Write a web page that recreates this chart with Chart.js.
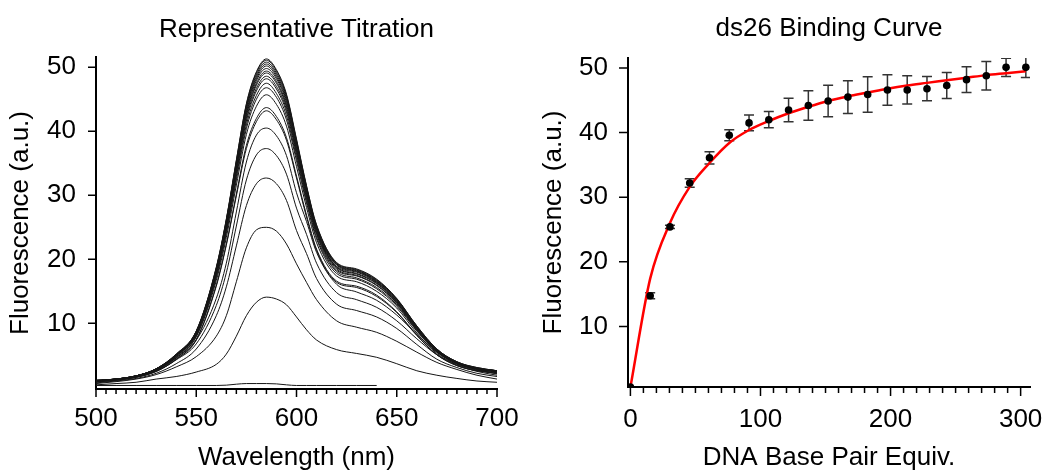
<!DOCTYPE html>
<html>
<head>
<meta charset="utf-8">
<script src="https://cdn.jsdelivr.net/npm/chart.js@4.4.0/dist/chart.umd.min.js"></script>
<style>
  body { margin: 0; background: #fff; }
  #wrap { position: relative; width: 1043px; height: 471px; }
  canvas { position: absolute; top: 0; }
</style>
</head>
<body>
<div id="wrap">
  <canvas id="titration" width="520" height="471" style="left:0"></canvas>
  <canvas id="binding" width="523" height="471" style="left:520px"></canvas>
</div>
<script>

// ============================
// DATA : LEFT PANEL (spectra)
// ============================

const wavelengths = [500,510,520,530,540,550,560,565,570,575,580,585,590,595,600,605,610,620,630,640,650,660,670,680,690,700];

// one spectrum per titration step (a.u.)
const spec00 = [0.3,0.3,0.3,0.3,0.3,0.3,0.3,0.35,0.5,0.6,0.6,0.6,0.55,0.4,0.3,0.3,0.3,0.3,0.3,0.3,null,null,null,null,null,null];
const spec01 = [0.4,0.6,0.8,1.3,1.7,2.4,3.6,5.2,8.0,11.2,13.3,14.1,13.8,12.9,11.0,9.0,7.4,5.9,5.3,4.7,3.7,2.6,1.9,1.4,1.0,0.8];
const spec02 = [0.6,0.9,1.3,2.0,3.2,4.8,8.0,11.2,16.5,21.8,24.6,25.0,24.4,22.4,19.3,16.4,13.7,10.4,9.4,8.6,7.2,5.5,3.9,2.8,1.9,1.3];
const spec03 = [0.7,1.0,1.4,2.2,3.7,6.0,11.2,15.7,22.1,28.4,31.8,32.7,31.8,29.2,24.5,20.9,17.0,13.0,12.0,11.0,9.2,6.7,4.4,3.1,2.2,1.7];
const spec04 = [0.8,1.2,1.6,2.5,4.3,6.8,12.8,17.9,25.2,32.4,36.3,37.3,36.2,33.3,28.0,23.9,19.4,14.8,13.7,12.5,10.4,7.6,5.1,3.5,2.5,1.9];
const spec05 = [0.9,1.3,1.8,2.8,4.6,7.4,13.9,19.4,27.4,35.2,39.4,40.5,39.3,36.2,30.4,25.9,21.1,16.1,14.9,13.6,11.3,8.3,5.5,3.8,2.8,2.1];
const spec06 = [0.9,1.1,1.6,2.5,4.4,7.4,15.8,22.2,29.9,37.3,41.5,43.2,41.8,38.6,32.7,26.6,21.4,16.4,15.6,14.2,11.7,8.1,5.1,3.4,2.6,2.2];
const spec07 = [0.9,1.1,1.6,2.5,4.4,7.5,16.0,22.4,30.2,37.8,42.0,43.7,42.3,39.0,33.0,26.9,21.6,16.6,15.8,14.4,11.8,8.2,5.1,3.4,2.6,2.2];
const spec08 = [1.0,1.2,1.6,2.6,4.6,7.9,16.7,23.4,31.6,39.5,43.9,45.7,44.2,40.8,34.5,28.1,22.6,17.4,16.5,15.0,12.4,8.5,5.3,3.6,2.7,2.3];
const spec09 = [1.0,1.2,1.7,2.7,4.7,8.0,17.1,24.0,32.4,40.4,45.0,46.8,45.3,41.8,35.4,28.8,23.2,17.8,16.9,15.4,12.7,8.8,5.5,3.7,2.8,2.4];
const spec10 = [1.0,1.2,1.7,2.7,4.8,8.2,17.4,24.4,32.9,41.0,45.6,47.5,45.9,42.4,35.9,29.2,23.5,18.1,17.1,15.6,12.9,8.9,5.6,3.7,2.9,2.4];
const spec11 = [1.0,1.3,1.7,2.7,4.9,8.3,17.6,24.7,33.4,41.6,46.3,48.2,46.6,43.0,36.4,29.6,23.9,18.3,17.4,15.9,13.1,9.0,5.6,3.8,2.9,2.5];
const spec12 = [1.0,1.3,1.7,2.8,4.9,8.4,17.8,24.9,33.6,42.0,46.7,48.6,47.0,43.4,36.7,29.9,24.1,18.5,17.5,16.0,13.2,9.1,5.7,3.8,2.9,2.5];
const spec13 = [1.0,1.3,1.8,2.8,5.0,8.4,18.0,25.2,34.0,42.4,47.2,49.1,47.5,43.8,37.1,30.2,24.3,18.7,17.7,16.2,13.3,9.2,5.7,3.8,2.9,2.5];
const spec14 = [1.0,1.3,1.8,2.8,5.0,8.5,18.1,25.3,34.2,42.7,47.5,49.4,47.8,44.1,37.3,30.4,24.5,18.8,17.8,16.3,13.4,9.2,5.8,3.9,3.0,2.5];
const spec15 = [1.0,1.3,1.8,2.8,5.0,8.6,18.2,25.5,34.5,43.0,47.9,49.8,48.2,44.5,37.6,30.6,24.7,18.9,18.0,16.4,13.5,9.3,5.8,3.9,3.0,2.5];
const spec16 = [1.1,1.3,1.8,2.9,5.1,8.6,18.4,25.8,34.7,43.4,48.2,50.2,48.5,44.8,38.0,30.9,24.8,19.1,18.1,16.5,13.6,9.4,5.9,3.9,3.0,2.6];
const spec17 = [1.1,1.3,1.8,2.9,5.1,8.7,18.5,25.9,34.9,43.6,48.5,50.5,48.8,45.1,38.2,31.1,25.0,19.2,18.2,16.6,13.7,9.4,5.9,3.9,3.0,2.6];
const spec18 = [1.1,1.3,1.8,2.9,5.1,8.7,18.6,26.1,35.2,43.9,48.8,50.8,49.1,45.4,38.4,31.2,25.1,19.3,18.3,16.7,13.8,9.5,5.9,4.0,3.0,2.6];
const spec19 = [1.1,1.3,1.8,2.9,5.2,8.8,18.7,26.2,35.4,44.2,49.1,51.1,49.4,45.6,38.6,31.4,25.3,19.4,18.4,16.8,13.8,9.6,6.0,4.0,3.1,2.6];
const spec20 = [1.1,1.3,1.8,2.9,5.2,8.8,18.8,26.3,35.5,44.3,49.3,51.3,49.6,45.8,38.8,31.5,25.4,19.5,18.5,16.9,13.9,9.6,6.0,4.0,3.1,2.6];

const spectra = [spec00,spec01,spec02,spec03,spec04,spec05,spec06,spec07,spec08,spec09,spec10,
                 spec11,spec12,spec13,spec14,spec15,spec16,spec17,spec18,spec19,spec20];

const wlTicks = [500,550,600,650,700];
const fluorTicks = [10,20,30,40,50];

// ============================
// DATA : RIGHT PANEL (binding)
// ============================

const bpEquiv  = [0,15.2,30.4,45.6,60.8,76,91.2,106.4,121.6,136.8,152,167.2,182.4,197.6,212.8,228,243.2,258.4,273.6,288.8,304];
const bindMean = [0.6,14.75,25.4,32.2,36.1,39.6,41.5,42.0,43.5,44.2,44.9,45.5,45.9,46.6,46.6,46.8,47.3,48.2,48.8,50.1,50.1];
const bindErr  = [0,0.46,0.25,0.65,0.95,0.85,1.21,1.26,1.83,2.27,2.45,2.53,2.76,2.35,2.19,1.88,2.01,1.99,2.19,1.42,1.55];
const bindFit  = [0.6,17.4,26.0,31.6,35.3,38.4,40.4,41.8,43.0,44.0,44.9,45.6,46.2,46.8,47.3,47.7,48.1,48.5,48.9,49.2,49.5];

const equivTicks = [0,100,200,300];


// ============================
// SHARED STYLE
// ============================

const FONT = "'Liberation Sans', Arial, Helvetica, sans-serif";
Chart.defaults.font.family = FONT;
Chart.defaults.color = "#000";

const tickFont  = {family: FONT, size: 26, lineHeight: 1};
const labelFont = {family: FONT, size: 26, lineHeight: 1};
const titleFont = {family: FONT, size: 26, lineHeight: 1, weight: "normal"};

// tick marks (major + minor) drawn on the axis lines
const tickMarks = {
  id: "tickMarks",
  afterDraw(chart, args, opts){
    const {ctx, chartArea} = chart;
    const xs = chart.scales.x, ys = chart.scales.y;
    ctx.save();
    ctx.strokeStyle = "#000";
    ctx.lineWidth = 1.5;
    ctx.beginPath();
    for(let v = opts.xFrom; v <= opts.xTo + 1e-6; v += opts.xMinor){
      const px = xs.getPixelForValue(v);
      const major = Math.abs(v % opts.xMajor) < 1e-6;
      ctx.moveTo(px, chartArea.bottom);
      ctx.lineTo(px, chartArea.bottom + (major ? opts.majorLen : opts.minorLen));
    }
    opts.yTicks.forEach(v=>{
      const py = ys.getPixelForValue(v);
      ctx.moveTo(chartArea.left, py);
      ctx.lineTo(chartArea.left - opts.yLen, py);
    });
    ctx.stroke();
    ctx.restore();
  }
};

// vertical error bars with caps, under the markers
const errorBars = {
  id: "errorBars",
  beforeDatasetsDraw(chart){
    const {ctx, chartArea} = chart;
    const xs = chart.scales.x, ys = chart.scales.y;
    ctx.save();
    ctx.beginPath();
    ctx.rect(chartArea.left, chartArea.top, chartArea.width, chartArea.height);
    ctx.clip();
    ctx.strokeStyle = "#333";
    ctx.lineWidth = 1.5;
    ctx.beginPath();
    bpEquiv.forEach((v,i)=>{
      const e = bindErr[i];
      if(!e) return;
      const px = xs.getPixelForValue(v);
      const top = ys.getPixelForValue(bindMean[i] + e);
      const bot = ys.getPixelForValue(bindMean[i] - e);
      ctx.moveTo(px, top); ctx.lineTo(px, bot);
      ctx.moveTo(px - 5, top); ctx.lineTo(px + 5, top);
      ctx.moveTo(px - 5, bot); ctx.lineTo(px + 5, bot);
    });
    ctx.stroke();
    ctx.restore();
  }
};

function fixedTicks(values){
  return scale => { scale.ticks = values.map(v => ({value: v})); };
}

// pin the axis box size and drop the label-overflow padding
function fitX(h){
  return s => { s.height = h; s.paddingLeft = 0; s.paddingRight = 0; };
}
function fitY(w){
  return s => { s.width = w; s.paddingTop = 0; s.paddingBottom = 0; };
}

const noGrid = {display: false, drawTicks: false, tickLength: 0};
const axisBorder = {display: true, color: "#000", width: 2};


// ============================
// LEFT : REPRESENTATIVE TITRATION
// ============================

new Chart(document.getElementById("titration"), {
  type: "line",
  data: {
    datasets: spectra.map(s => ({
      data: wavelengths.map((w,i) => ({x: w, y: s[i]})),
      borderColor: "#151515",
      borderWidth: 1,
      pointRadius: 0,
      cubicInterpolationMode: "monotone",
      spanGaps: false
    }))
  },
  options: {
    responsive: false,
    animation: false,
    events: [],
    layout: {padding: {left: 0, right: 23, top: 0, bottom: 0}},
    plugins: {
      legend: {display: false},
      tooltip: {enabled: false},
      title: {
        display: true,
        text: "Representative Titration",
        fullSize: false,
        font: titleFont,
        color: "#000",
        padding: {top: 17, bottom: 14}
      },
      tickMarks: {xFrom: 500, xTo: 700, xMinor: 5, xMajor: 50, minorLen: 5, majorLen: 8, yTicks: fluorTicks, yLen: 8}
    },
    scales: {
      x: {
        type: "linear",
        min: 500, max: 700,
        afterBuildTicks: fixedTicks(wlTicks),
        afterFit: fitX(82),
        grid: noGrid,
        border: axisBorder,
        ticks: {font: tickFont, color: "#000", padding: 17, maxRotation: 0, autoSkip: false},
        title: {display: true, text: "Wavelength (nm)", font: labelFont, color: "#000", padding: {top: 0, bottom: 0}}
      },
      y: {
        type: "linear",
        min: -0.25, max: 51.6,
        afterBuildTicks: fixedTicks(fluorTicks),
        afterFit: fitY(96),
        grid: noGrid,
        border: axisBorder,
        ticks: {font: tickFont, color: "#000", padding: 20},
        title: {display: true, text: "Fluorescence (a.u.)", font: labelFont, color: "#000", padding: {top: 8, bottom: 0}}
      }
    }
  },
  plugins: [tickMarks]
});


// ============================
// RIGHT : ds26 BINDING CURVE
// ============================

new Chart(document.getElementById("binding"), {
  type: "line",
  data: {
    datasets: [
      {
        label: "mean",
        data: bpEquiv.map((x,i) => ({x: x, y: bindMean[i]})),
        showLine: false,
        pointStyle: "circle",
        pointRadius: 3.8,
        pointBackgroundColor: "#000",
        pointBorderWidth: 0,
        order: 0
      },
      {
        label: "fit",
        data: bpEquiv.map((x,i) => ({x: x, y: bindFit[i]})),
        borderColor: "#ff0000",
        borderWidth: 2.5,
        pointRadius: 0,
        cubicInterpolationMode: "monotone",
        order: 1
      }
    ]
  },
  options: {
    responsive: false,
    animation: false,
    events: [],
    layout: {padding: {left: 0, right: 13, top: 0, bottom: 0}},
    plugins: {
      legend: {display: false},
      tooltip: {enabled: false},
      title: {
        display: true,
        text: "ds26 Binding Curve",
        fullSize: false,
        font: titleFont,
        color: "#000",
        padding: {top: 16, bottom: 16}
      },
      tickMarks: {xFrom: 0, xTo: 300, xMinor: 10, xMajor: 100, minorLen: 6, majorLen: 9, yTicks: fluorTicks, yLen: 9}
    },
    scales: {
      x: {
        type: "linear",
        min: -1.85, max: 307.2,
        afterBuildTicks: fixedTicks(equivTicks),
        afterFit: fitX(84),
        grid: noGrid,
        border: axisBorder,
        ticks: {font: tickFont, color: "#000", padding: 20, maxRotation: 0, autoSkip: false},
        title: {display: true, text: "DNA Base Pair Equiv.", font: labelFont, color: "#000", padding: {top: 0, bottom: 0}}
      },
      y: {
        type: "linear",
        min: 0.62, max: 51.55,
        afterBuildTicks: fixedTicks(fluorTicks),
        afterFit: fitY(108),
        grid: noGrid,
        border: axisBorder,
        ticks: {font: tickFont, color: "#000", padding: 20},
        title: {display: true, text: "Fluorescence (a.u.)", font: labelFont, color: "#000", padding: {top: 21, bottom: 0}}
      }
    }
  },
  plugins: [tickMarks, errorBars]
});

</script>
</body>
</html>
